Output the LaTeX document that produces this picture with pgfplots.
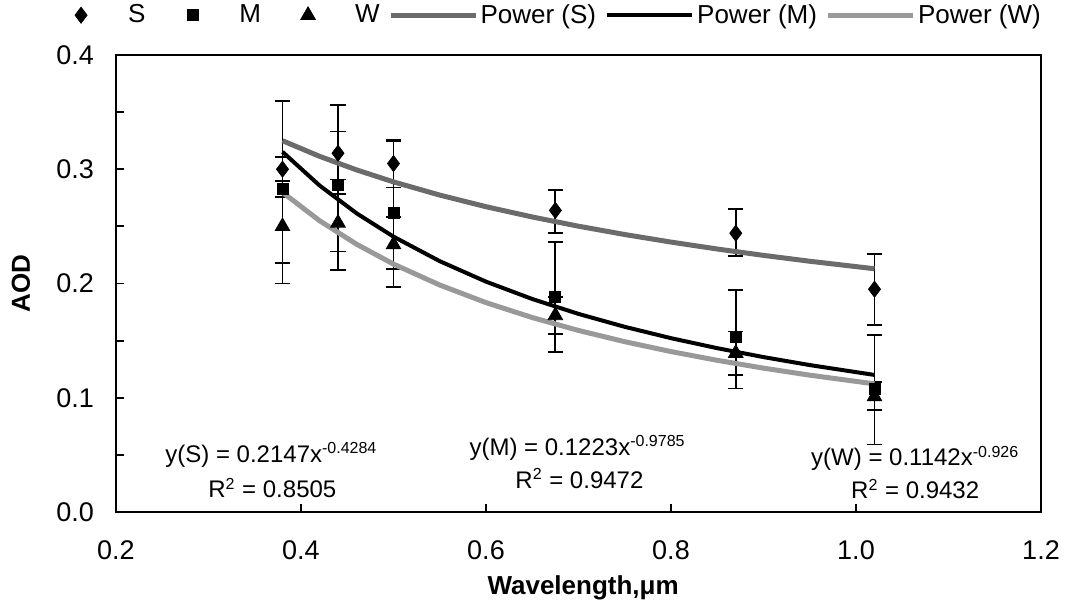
\documentclass[border=0pt]{standalone}
\usepackage{pgfplots}
\pgfplotsset{compat=1.18}
\usepackage{pgfplotstable}
\usepackage{fontspec}
\setmainfont{Liberation Sans}

\pgfplotsset{
  markleg/.style={legend image code/.code={\path[draw=none,fill=none] (-23.5pt,0pt) -- (23.5pt,0pt);\draw[mark repeat=2,mark phase=2,##1] plot coordinates {(-10pt,0pt)(0pt,0pt)(10pt,0pt)};}},
  lineleg/.style={legend image code/.code={\path[draw=none,fill=none] (-5.5pt,0pt) -- (45pt,0pt);\draw[##1] (0pt,0pt) -- (42.5pt,0pt);}},
}

\pgfplotstableread{
x y ep em
0.38 0.300 0.060 0.082
0.44 0.314 0.042 0.036
0.50 0.305 0.021 0.021
0.675 0.264 0.018 0.020
0.87 0.244 0.021 0.020
1.02 0.195 0.031 0.031
}\dataS
\pgfplotstableread{
x y ep em
0.38 0.283 0.007 0.007
0.44 0.286 0.047 0.058
0.50 0.262 0.063 0.049
0.675 0.188 0.048 0.048
0.87 0.153 0.041 0.045
1.02 0.108 0.047 0.049
}\dataM
\pgfplotstableread{
x y ep em
0.38 0.250 0.061 0.050
0.44 0.253 0.038 0.041
0.50 0.234 0.024 0.037
0.675 0.172 0.016 0.016
0.87 0.139 0.019 0.019
1.02 0.101 0.013 0.012
}\dataW
\pgfplotstableread{
x yS yM yW
0.38 0.32498 0.31522 0.27976
0.42 0.31134 0.28581 0.25500
0.46 0.29944 0.26148 0.23440
0.50 0.28893 0.24099 0.21698
0.55 0.27737 0.21953 0.19866
0.60 0.26722 0.20161 0.18327
0.65 0.25822 0.18642 0.17018
0.70 0.25014 0.17338 0.15889
0.75 0.24286 0.16206 0.14906
0.80 0.23624 0.15214 0.14041
0.85 0.23018 0.14338 0.13275
0.90 0.22461 0.13558 0.12590
0.95 0.21947 0.12859 0.11976
1.02 0.21289 0.11995 0.11213
}\trend

\begin{document}
\begin{tikzpicture}
\begin{axis}[
  scale only axis, width=462.5pt, height=228.5pt,
  xmin=0.2, xmax=1.2, ymin=0, ymax=0.4,
  xtick={0.2,0.4,0.6,0.8,1.0,1.2},
  ytick={0,0.1,0.2,0.3,0.4},
  minor y tick num=1,
  tick align=inside, xtick pos=lower, ytick pos=left,
  major tick length=4pt, minor tick length=4pt,
  axis line style={line width=1pt},
  every tick/.style={black, line width=0.9pt},
  /pgf/number format/assume math mode=true,
  xticklabel style={font=\fontsize{13.5}{16}\selectfont, yshift=-11pt,
    /pgf/number format/.cd, fixed, fixed zerofill, precision=1},
  yticklabel style={font=\fontsize{13.5}{16}\selectfont, xshift=-7.5pt,
    /pgf/number format/.cd, fixed, fixed zerofill, precision=1},
  xlabel={\bfseries Wavelength,μm},
  ylabel={\bfseries AOD},
  every axis x label/.style={at={(axis description cs:0.505,-0.165)}, anchor=center, font=\fontsize{13}{15}\selectfont},
  every axis y label/.style={at={(axis description cs:-0.1027,0.5)}, anchor=center, rotate=90, font=\fontsize{13}{15}\selectfont},
  legend columns=6,
  legend style={draw=none, fill=none, at={(axis description cs:-0.089,1.087)}, anchor=west,
    font=\fontsize{13}{15}\selectfont, inner sep=0pt, nodes={inner sep=0pt},
    column sep=0pt},
  error bars/error bar style={line width=0.9pt, black},
  error bars/error mark options={rotate=90, mark size=3.75pt, line width=0.9pt, black},
]
\addplot[only marks, mark=diamond*, mark size=4pt, black, markleg,
  error bars/.cd, y dir=both, y explicit]
  table[x=x, y=y, y error plus=ep, y error minus=em] {\dataS};
\addlegendentry{S}
\addplot[only marks, mark=square*, mark size=2.75pt, black, markleg,
  error bars/.cd, y dir=both, y explicit]
  table[x=x, y=y, y error plus=ep, y error minus=em] {\dataM};
\addlegendentry{M}
\addplot[only marks, mark=triangle*, mark size=4.2pt, black, markleg,
  error bars/.cd, y dir=both, y explicit]
  table[x=x, y=y, y error plus=ep, y error minus=em] {\dataW};
\addlegendentry{W}
\addplot[no marks, black!58, line width=2.5pt, lineleg]
  table[x=x, y=yS] {\trend};
\addlegendentry{Power (S)}
\addplot[no marks, black, line width=2pt, lineleg]
  table[x=x, y=yM] {\trend};
\addlegendentry{Power (M)}
\addplot[no marks, black!40, line width=2.5pt, lineleg]
  table[x=x, y=yW] {\trend};
\addlegendentry{Power (W)}

\node[font=\fontsize{12}{14}\selectfont] at (axis cs:0.368,0.050) {y(S) = 0.2147x\textsuperscript{-0.4284}};
\node[font=\fontsize{12}{14}\selectfont] at (axis cs:0.369,0.021) {R\textsuperscript{2} = 0.8505};
\node[font=\fontsize{12}{14}\selectfont] at (axis cs:0.699,0.056) {y(M) = 0.1223x\textsuperscript{-0.9785}};
\node[font=\fontsize{12}{14}\selectfont] at (axis cs:0.701,0.029) {R\textsuperscript{2} = 0.9472};
\node[font=\fontsize{12}{14}\selectfont] at (axis cs:1.064,0.047) {y(W) = 0.1142x\textsuperscript{-0.926}};
\node[font=\fontsize{12}{14}\selectfont] at (axis cs:1.064,0.020) {R\textsuperscript{2} = 0.9432};
\end{axis}
\pgfresetboundingbox
\path (current axis.south west) ++(-58pt,-50.5pt) rectangle ++(533pt,306.5pt);
\end{tikzpicture}
\end{document}
